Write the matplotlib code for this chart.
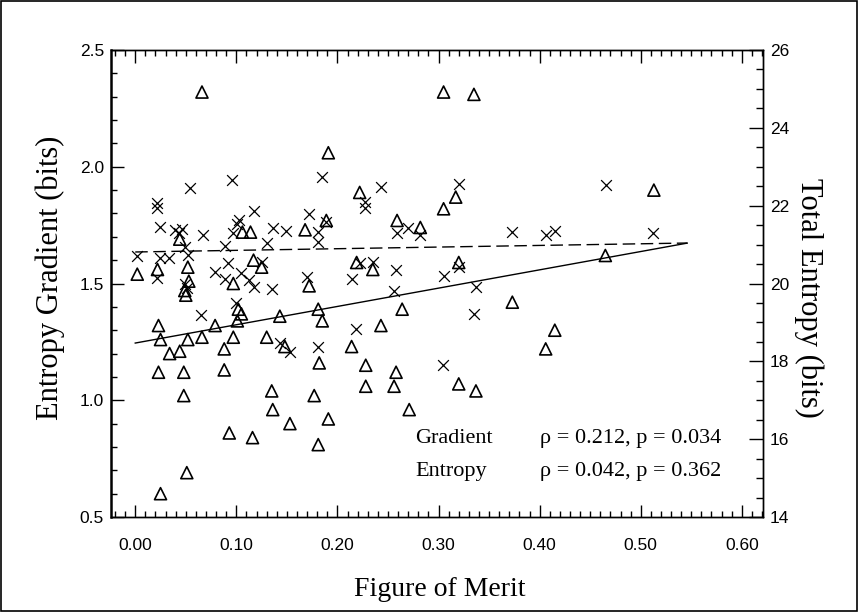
import matplotlib
matplotlib.use("Agg")
import matplotlib.pyplot as plt
from matplotlib.ticker import MultipleLocator, FormatStrFormatter
from matplotlib.patches import Rectangle

# entropy gradient (triangles, left axis)
grad_fom = [0.066, 0.191, 0.305, 0.335, 0.222, 0.317, 0.305, 0.513, 0.106, 0.114,
            0.168, 0.189, 0.259, 0.282, 0.044, 0.002, 0.022, 0.052, 0.053, 0.049,
            0.050, 0.117, 0.125, 0.097, 0.172, 0.102, 0.105, 0.101, 0.143, 0.181,
            0.185, 0.023, 0.079, 0.025, 0.052, 0.066, 0.097, 0.034, 0.044, 0.088,
            0.130, 0.148, 0.182, 0.023, 0.048, 0.088, 0.048, 0.135, 0.177, 0.136,
            0.153, 0.093, 0.116, 0.181, 0.051, 0.025, 0.191, 0.219, 0.235, 0.320,
            0.264, 0.373, 0.243, 0.214, 0.228, 0.258, 0.228, 0.256, 0.320, 0.337,
            0.271, 0.406, 0.415, 0.465]
grad_val = [2.32, 2.06, 2.32, 2.31, 1.89, 1.87, 1.82, 1.90, 1.72, 1.72,
            1.73, 1.77, 1.77, 1.74, 1.69, 1.54, 1.56, 1.57, 1.51, 1.47,
            1.45, 1.60, 1.57, 1.50, 1.49, 1.39, 1.37, 1.34, 1.36, 1.39,
            1.34, 1.32, 1.32, 1.26, 1.26, 1.27, 1.27, 1.20, 1.21, 1.22,
            1.27, 1.23, 1.16, 1.12, 1.12, 1.13, 1.02, 1.04, 1.02, 0.96,
            0.90, 0.86, 0.84, 0.81, 0.69, 0.60, 0.92, 1.59, 1.56, 1.59,
            1.39, 1.42, 1.32, 1.23, 1.15, 1.12, 1.06, 1.06, 1.07, 1.04,
            0.96, 1.22, 1.30, 1.62]

# total entropy (crosses, right axis)
ent_fom = [0.022, 0.022, 0.054, 0.096, 0.185, 0.024, 0.039, 0.043, 0.046, 0.067,
           0.103, 0.101, 0.117, 0.136, 0.149, 0.172, 0.181, 0.097, 0.243, 0.227,
           0.227, 0.320, 0.189, 0.259, 0.270, 0.282, 0.373, 0.406, 0.466, 0.415,
           0.512, 0.002, 0.024, 0.033, 0.049, 0.052, 0.089, 0.130, 0.181, 0.022,
           0.049, 0.051, 0.092, 0.125, 0.079, 0.089, 0.105, 0.113, 0.117, 0.135,
           0.170, 0.100, 0.065, 0.143, 0.153, 0.181, 0.222, 0.235, 0.214, 0.258,
           0.305, 0.320, 0.256, 0.337, 0.335, 0.218, 0.304]
ent_val = [22.06, 21.93, 22.46, 22.66, 22.73, 21.46, 21.37, 21.30, 21.40, 21.25,
           21.63, 21.53, 21.87, 21.42, 21.36, 21.79, 21.32, 21.30, 22.47, 22.10,
           21.93, 22.56, 21.58, 21.29, 21.42, 21.25, 21.33, 21.25, 22.53, 21.36,
           21.29, 20.71, 20.65, 20.65, 20.94, 20.73, 20.96, 21.05, 21.07, 20.13,
           20.00, 19.88, 20.52, 20.56, 20.30, 20.11, 20.26, 20.09, 19.90, 19.85,
           20.17, 19.49, 19.19, 18.46, 18.25, 18.36, 20.53, 20.56, 20.11, 20.35,
           20.19, 20.43, 19.81, 19.90, 19.22, 18.82, 17.91]

# regression lines (end points)
fit_fom = [0.0, 0.546]
grad_fit = [1.245, 1.673]
ent_fit = [20.81, 21.04]

stat_names = ["Gradient", "Entropy"]
stat_texts = ["\u03c1 = 0.212, p = 0.034", "\u03c1 = 0.042, p = 0.362"]

serif = ["Liberation Serif", "DejaVu Serif"]

fig = plt.figure(figsize=(8.59, 6.12), dpi=100)
ax = fig.add_axes([0.1292, 0.1552, 0.7591, 0.7631])
ax2 = ax.twinx()

ax.scatter(grad_fom, grad_val, marker="^", s=75, facecolors="none",
           edgecolors="black", linewidths=1.2, zorder=3)
ax.plot(fit_fom, grad_fit, color="black", lw=1.0)

ax2.scatter(ent_fom, ent_val, marker="x", s=60, color="black",
            linewidths=0.9, zorder=3)
ax2.plot(fit_fom, ent_fit, color="black", lw=1.0, dashes=(9, 4))

ax.set_xlim(-0.024, 0.621)
ax.set_ylim(0.5, 2.5)
ax2.set_ylim(14, 26)

# ticks
ax.xaxis.set_major_locator(MultipleLocator(0.1))
ax.xaxis.set_minor_locator(MultipleLocator(0.01))
ax.xaxis.set_major_formatter(FormatStrFormatter("%.2f"))
ax.yaxis.set_major_locator(MultipleLocator(0.5))
ax.yaxis.set_minor_locator(MultipleLocator(0.1))
ax.yaxis.set_major_formatter(FormatStrFormatter("%.1f"))
ax2.yaxis.set_major_locator(MultipleLocator(2))
ax2.yaxis.set_minor_locator(MultipleLocator(0.5))

ax.tick_params(axis="x", which="both", direction="in", top=True, pad=15)
ax.tick_params(axis="y", which="both", direction="in", right=False, pad=5)
ax.tick_params(which="major", length=9, width=1)
ax.tick_params(which="minor", length=4, width=1)
ax.tick_params(labelsize=12.5, labelfontfamily="Liberation Sans")
ax2.tick_params(axis="y", which="both", direction="in", pad=5)
ax2.tick_params(which="major", length=10, width=1)
ax2.tick_params(which="minor", length=5, width=1)
ax2.tick_params(labelsize=12.5, labelfontfamily="Liberation Sans")

for s in ["top", "right", "bottom"]:
    ax.spines[s].set_linewidth(1.0)
    ax2.spines[s].set_linewidth(1.0)
ax.spines["left"].set_linewidth(1.8)
ax2.spines["left"].set_visible(False)

# axis titles
fig.text(440 / 859, 1 - 590 / 612, "Figure of Merit", fontsize=20, family=serif,
         ha="center", va="center")
fig.text(50 / 859, 1 - 278 / 612, "Entropy Gradient (bits)", fontsize=22,
         family=serif, rotation=90, ha="center", va="center")
fig.text(809 / 859, 1 - 298 / 612, "Total Entropy (bits)", fontsize=22,
         family=serif, rotation=-90, ha="center", va="center")

# correlation text
ax.text(0.277, 0.838, stat_names[0], fontsize=16, family=serif, va="center")
ax.text(0.400, 0.838, stat_texts[0], fontsize=16, family=serif, va="center")
ax.text(0.277, 0.693, stat_names[1], fontsize=16, family=serif, va="center")
ax.text(0.400, 0.693, stat_texts[1], fontsize=16, family=serif, va="center")

# frame around the whole figure
fig.patches.append(Rectangle((0.001, 0.002), 0.997, 0.996, transform=fig.transFigure,
                             fill=False, edgecolor="black", lw=1.2))

fig.savefig("out.png", dpi=100)
